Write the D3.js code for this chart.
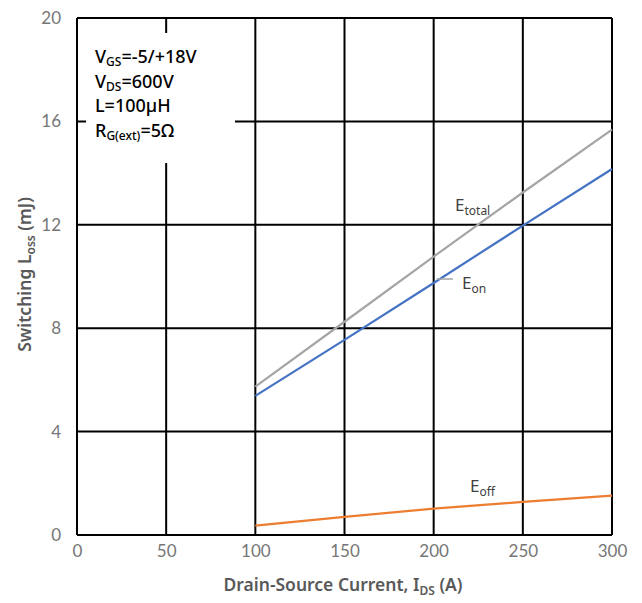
<!DOCTYPE html>
<html><head><meta charset="utf-8">
<script src="https://cdn.jsdelivr.net/npm/d3@7"></script>
<style>body{margin:0;background:#fff;} svg{display:block;}</style>
</head><body>
<script>
const current = [100, 150, 200, 250, 300];
const eon = [5.38, 7.55, 9.75, 11.97, 14.16];
const eoff = [0.36, 0.7, 1.02, 1.28, 1.52];
const etotal = [5.74, 8.25, 10.77, 13.25, 15.68];
const xTicks = [0, 50, 100, 150, 200, 250, 300];
const yTicks = [0, 4, 8, 12, 16, 20];

const W = 642, H = 603;
const m = {l: 77, r: 30, t: 18, b: 68};
const svg = d3.select("body").append("svg").attr("width", W).attr("height", H);
const x = d3.scaleLinear().domain([0, 300]).range([m.l, W - m.r]);
const y = d3.scaleLinear().domain([0, 20]).range([H - m.b, m.t]);
const font = "Lato, 'Noto Sans', sans-serif";
const font2 = "'Noto Sans', sans-serif";
const grey = "#595959";

// grid
const g = svg.append("g");
g.selectAll(".vx").data(xTicks).join("line")
  .attr("x1", d => x(d)).attr("x2", d => x(d)).attr("y1", y(0)).attr("y2", y(20))
  .attr("stroke", "#000").attr("stroke-width", 2);
g.selectAll(".hy").data(yTicks).join("line")
  .attr("x1", x(0)).attr("x2", x(300)).attr("y1", d => y(d)).attr("y2", d => y(d))
  .attr("stroke", "#000").attr("stroke-width", 2);

// axes labels
const xa = svg.append("g").attr("transform", `translate(0,${y(0)})`)
  .call(d3.axisBottom(x).tickValues(xTicks).tickSize(0).tickPadding(10));
xa.select(".domain").remove();
xa.selectAll("text").attr("font-family", font).attr("font-size", 17).attr("fill", "#767676");
const ya = svg.append("g").attr("transform", `translate(${x(0)},0)`)
  .call(d3.axisLeft(y).tickValues(yTicks).tickSize(0).tickPadding(16));
ya.select(".domain").remove();
ya.selectAll("text").attr("font-family", font).attr("font-size", 17).attr("fill", "#767676");

// legend box (annotation)
svg.append("rect").attr("x", 86).attr("y", 33).attr("width", 149).attr("height", 130).attr("fill", "#fff");
const ann = [["V", "GS", "=-5/+18V"], ["V", "DS", "=600V"], ["L=100µH", "", ""], ["R", "G(ext)", "=5Ω"]];
ann.forEach((a, i) => {
  const t = svg.append("text").attr("x", 95).attr("y", 63 + i * 24.7)
    .attr("font-family", font2).attr("font-size", 18).attr("font-weight", 500).attr("fill", "#000");
  t.append("tspan").text(a[0]);
  if (a[1]) {
    t.append("tspan").attr("font-size", 12).attr("dy", 3).text(a[1]);
    t.append("tspan").attr("dy", -3).text(a[2]);
  }
});

// series
const line = d3.line().x(d => x(d[0])).y(d => y(d[1]));
const series = [[etotal, "#A5A5A5"], [eon, "#4472C4"], [eoff, "#ED7D31"]];
series.forEach(([vals, c]) => {
  svg.append("path").datum(current.map((v, i) => [v, vals[i]]))
    .attr("d", line).attr("fill", "none").attr("stroke", c).attr("stroke-width", 2.2);
});

// series labels
function lab(xp, yp, main, sub) {
  const t = svg.append("text").attr("x", xp).attr("y", yp)
    .attr("font-family", font2).attr("font-size", 17).attr("fill", "#404040");
  t.append("tspan").text(main);
  t.append("tspan").attr("font-size", 12).attr("dy", 4).text(sub);
}
lab(455, 211, "E", "total");
lab(462, 289, "E", "on");
lab(470, 492, "E", "off");
svg.append("line").attr("x1", x(200) + 3).attr("x2", 453).attr("y1", 279).attr("y2", 279)
  .attr("stroke", "#A5A5A5").attr("stroke-width", 1.5);

// axis titles
const xt = svg.append("text").attr("x", 343).attr("y", 591).attr("text-anchor", "middle")
  .attr("font-family", font2).attr("font-size", 17.5).attr("font-weight", 600).attr("fill", grey);
xt.append("tspan").text("Drain-Source Current, I");
xt.append("tspan").attr("font-size", 12).attr("dy", 4).text("DS");
xt.append("tspan").attr("dy", -4).text(" (A)");

const yt = svg.append("text").attr("transform", `translate(31,${y(10) - 2}) rotate(-90)`).attr("text-anchor", "middle")
  .attr("font-family", font2).attr("font-size", 17.5).attr("font-weight", 600).attr("fill", grey);
yt.append("tspan").text("Switching L");
yt.append("tspan").attr("font-size", 12).attr("dy", 4).text("oss");
yt.append("tspan").attr("dy", -4).text(" (mJ)");
</script>
</body></html>
